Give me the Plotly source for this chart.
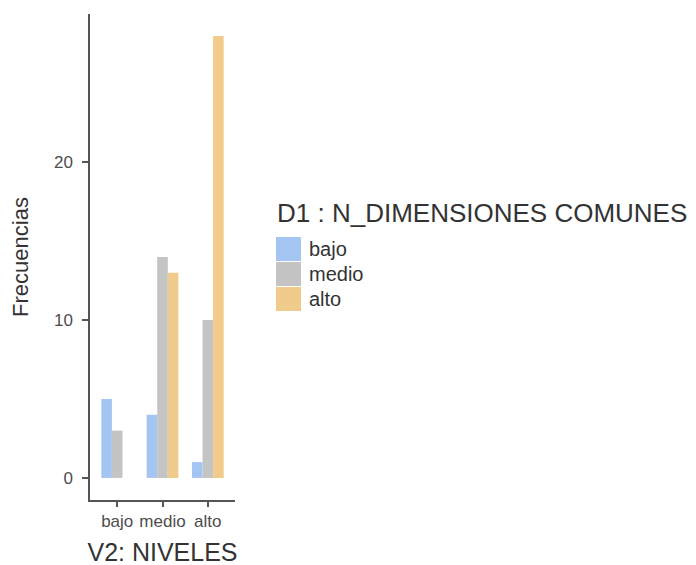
import plotly.graph_objects as go

categories = ["bajo", "medio", "alto"]
series_names = ["bajo", "medio", "alto"]
values_bajo = [5, 4, 1]
values_medio = [3, 14, 10]
values_alto = [0, 13, 28]
colors = ["#a4c4f2", "#c4c4c4", "#f1cb8b"]
y_ticks = [0, 10, 20]
legend_title = "D1 : N_DIMENSIONES COMUNES"
x_title = "V2: NIVELES"
y_title = "Frecuencias"

W, H = 696, 565
L, R, T, B = 82, 469, 6, 73
PW, PH = W - L - R, H - T - B
FONT = "Liberation Sans, Arial, sans-serif"


def px_x(px):
    return (px - L) / PW


def px_y(py):
    return (H - B - py) / PH


fig = go.Figure()
for name, vals, col in zip(series_names, [values_bajo, values_medio, values_alto], colors):
    fig.add_trace(go.Bar(x=categories, y=vals, name=name, showlegend=False,
                         marker=dict(color=col, line=dict(width=0))))

# manual legend (large square keys like the reference)
shapes = []
annotations = [dict(text=legend_title, x=px_x(267), y=px_y(205), xref="paper", yref="paper",
                    xanchor="left", yanchor="middle", showarrow=False,
                    font=dict(size=26, color="#333333", family=FONT))]
for i, (name, col) in enumerate(zip(series_names, colors)):
    top = 229 + 25 * i
    shapes.append(dict(type="rect", xref="paper", yref="paper",
                       x0=px_x(268), x1=px_x(293), y0=px_y(top + 24), y1=px_y(top),
                       fillcolor=col, line=dict(width=0), layer="above"))
    annotations.append(dict(text=name, x=px_x(299), y=px_y(top + 12), xref="paper", yref="paper",
                            xanchor="left", yanchor="middle", showarrow=False,
                            font=dict(size=20, color="#333333", family=FONT)))

fig.update_layout(
    width=W, height=H,
    margin=dict(l=L, r=R, t=T, b=B, autoexpand=False),
    paper_bgcolor="white", plot_bgcolor="white",
    barmode="group", bargap=0.3, bargroupgap=0,
    font=dict(family=FONT, color="#4d4d4d"),
    showlegend=False,
    shapes=shapes, annotations=annotations,
)
fig.update_xaxes(
    range=[-0.6, 2.6], showline=True, linecolor="#555555", linewidth=1.5,
    ticks="outside", ticklen=5, tickcolor="#555555", tickwidth=1.5,
    tickfont=dict(size=17, color="#4d4d4d"),
    showgrid=False, zeroline=False,
    title=dict(text=x_title, font=dict(size=25, color="#333333"), standoff=13),
)
fig.update_yaxes(
    range=[-1.4, 29.4], showline=True, linecolor="#555555", linewidth=1.5,
    ticks="outside", ticklen=6, tickcolor="#555555", tickwidth=1.5, tickvals=y_ticks,
    tickfont=dict(size=17, color="#4d4d4d"), ticklabelstandoff=6,
    showgrid=False, zeroline=False,
    title=dict(text=y_title, font=dict(size=22, color="#333333"), standoff=19),
)
fig.write_html("out.html")
